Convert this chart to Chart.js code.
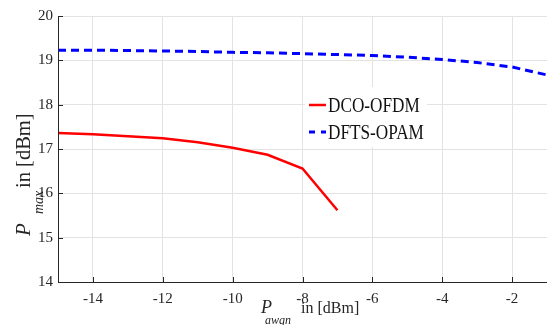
<!DOCTYPE html>
<html>
<head>
<meta charset="utf-8">
<script src="https://cdn.jsdelivr.net/npm/chart.js@4/dist/chart.umd.min.js"></script>
<style>
  html, body { margin: 0; padding: 0; background: #fff; }
  #wrap { width: 547px; height: 325px; }
</style>
</head>
<body>
<div id="wrap"><canvas id="c"></canvas></div>
<script>
// P_awgn in dBm
const awgnDco  = [-15, -14, -13, -12, -11, -10, -9, -8, -7];
const pmaxDco  = [17.36, 17.33, 17.29, 17.24, 17.15, 17.03, 16.87, 16.56, 15.62];

const awgnDfts = [-15, -14, -13, -12, -11, -10, -9, -8, -7, -6, -5, -4, -3, -2, -1];
const pmaxDfts = [19.23, 19.23, 19.22, 19.21, 19.20, 19.18, 19.17, 19.15, 19.13, 19.11, 19.07, 19.02, 18.95, 18.85, 18.67];

const xTicks = [-14, -12, -10, -8, -6, -4, -2];
const yTicks = [14, 15, 16, 17, 18, 19, 20];

const SERIF = '"Liberation Serif", "DejaVu Serif", serif';

// inward tick marks, axis lines, titles with subscripts, legend box
const decor = {
  id: 'decor',
  afterDraw(chart) {
    const { ctx, chartArea: a, scales: { x, y } } = chart;
    ctx.save();
    ctx.strokeStyle = '#262626';
    ctx.lineWidth = 1;
    ctx.beginPath();
    ctx.moveTo(a.left + 0.5, a.top);
    ctx.lineTo(a.left + 0.5, a.bottom + 0.5);
    ctx.lineTo(a.right, a.bottom + 0.5);
    xTicks.forEach(v => {
      const px = Math.round(x.getPixelForValue(v)) + 0.5;
      ctx.moveTo(px, a.bottom);
      ctx.lineTo(px, a.bottom - 5);
    });
    yTicks.forEach(v => {
      const py = Math.round(y.getPixelForValue(v)) + 0.5;
      ctx.moveTo(a.left, py);
      ctx.lineTo(a.left + 5, py);
    });
    ctx.stroke();

    // x title
    ctx.fillStyle = '#262626';
    ctx.textBaseline = 'alphabetic';
    ctx.textAlign = 'left';
    ctx.font = 'italic 18px ' + SERIF;
    ctx.fillText('P', 261, 313);
    ctx.font = 'italic 12px ' + SERIF;
    ctx.fillText('awgn', 265, 324);
    ctx.font = '16px ' + SERIF;
    ctx.fillText('in [dBm]', 301, 313);

    // y title
    ctx.save();
    ctx.translate(30, 0);
    ctx.rotate(-Math.PI / 2);
    ctx.font = 'italic 21px ' + SERIF;
    ctx.fillText('P', -236, 0);
    ctx.font = 'italic 14px ' + SERIF;
    ctx.fillText('max', -214, 13);
    ctx.font = '20.5px ' + SERIF;
    ctx.fillText('in [dBm]', -188, 0);
    ctx.restore();

    // legend
    ctx.fillStyle = '#fff';
    ctx.fillRect(305, 87, 122, 60);
    chart.data.datasets.forEach((ds, i) => {
      const yy = 105 + i * 27;
      ctx.strokeStyle = ds.borderColor;
      ctx.lineWidth = ds.borderWidth;
      ctx.setLineDash(ds.borderDash ? [6, 6] : []);
      ctx.beginPath();
      ctx.moveTo(309, yy);
      ctx.lineTo(326, yy);
      ctx.stroke();
      ctx.setLineDash([]);
      ctx.save();
      ctx.translate(328, yy + 2);
      ctx.scale(0.86, 1);
      ctx.fillStyle = '#111';
      ctx.textBaseline = 'middle';
      ctx.font = '20px ' + SERIF;
      ctx.fillText(ds.label, 0, 0);
      ctx.restore();
    });
    ctx.restore();
  }
};

new Chart(document.getElementById('c'), {
  type: 'line',
  data: {
    datasets: [
      {
        label: 'DCO-OFDM',
        data: awgnDco.map((v, i) => ({ x: v, y: pmaxDco[i] })),
        borderColor: '#ff0000',
        borderWidth: 2.5,
        pointRadius: 0,
        tension: 0,
      },
      {
        label: 'DFTS-OPAM',
        data: awgnDfts.map((v, i) => ({ x: v, y: pmaxDfts[i] })),
        borderColor: '#0000ff',
        borderWidth: 3,
        borderDash: [8, 5],
        pointRadius: 0,
        tension: 0,
      },
    ],
  },
  options: {
    responsive: true,
    maintainAspectRatio: false,
    animation: false,
    layout: { padding: { top: 16, right: 0, left: 0, bottom: 0 } },
    plugins: { legend: { display: false }, tooltip: { enabled: false } },
    scales: {
      x: {
        type: 'linear',
        min: -15, max: -1,
        afterFit: (s) => { s.height = 43; },
        afterBuildTicks: (s) => { s.ticks = xTicks.map(v => ({ value: v })); },
        grid: { color: '#e3e3e3', drawTicks: false },
        border: { display: false },
        ticks: { font: { family: SERIF, size: 15 }, color: '#262626', padding: 8 },
      },
      y: {
        min: 14, max: 20,
        afterFit: (s) => { s.width = 58; },
        afterBuildTicks: (s) => { s.ticks = yTicks.map(v => ({ value: v })); },
        grid: { color: '#e3e3e3', drawTicks: false },
        border: { display: false },
        ticks: { font: { family: SERIF, size: 15 }, color: '#262626', padding: 5 },
      },
    },
  },
  plugins: [decor],
});
</script>
</body>
</html>
